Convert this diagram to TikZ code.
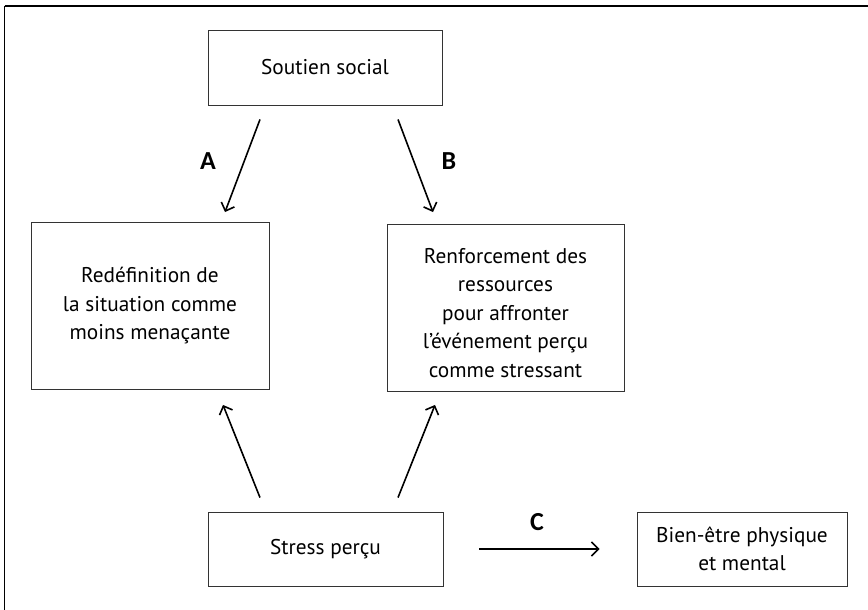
\documentclass[tikz,border=0pt]{standalone}
\usepackage{fontspec}
\setmainfont{PT Sans}
\newfontfamily\lblfont{Carlito}
\usetikzlibrary{arrows.meta,calc}
\tikzset{
  box/.style={draw=black!80, line width=0.9pt, rectangle, inner sep=0pt, align=center, font=\fontsize{21.3}{28.5}\selectfont},
  arr/.style={line width=1.6pt, -{Straight Barb[length=7pt,width=14pt,line width=1.6pt]}},
  lbl/.style={font=\lblfont\bfseries\fontsize{26}{30}\selectfont}
}
\begin{document}
\begin{tikzpicture}[x=1pt,y=-1pt]
\useasboundingbox (0,0) rectangle (868,610);
\coordinate (fbl) at (4.5,612);
\coordinate (ftl) at (4.5,6);
\coordinate (ftr) at (870,6);
\draw[line width=1.2pt] (fbl) -- (ftl);
\draw[line width=2pt] (ftl) -- (ftr);
\node[box, minimum width=234pt, minimum height=75pt] (ss) at (325,67.5) {Soutien social};
\node[box, minimum width=238pt, minimum height=167pt] (rd) at (150,306) {Redéfinition de\\la situation comme\\moins menaçante};
\node[box, minimum width=237pt, minimum height=167pt] (rf) at (505.5,308) {};
\node[box, draw=none] (rft) at (505.5,313) {Renforcement des\\ressources\\pour affronter\\l’événement perçu\\comme stressant};
\node[box, minimum width=235pt, minimum height=74pt] (sp) at (325.5,549) {Stress perçu};
\node[box, minimum width=210pt, minimum height=74pt] (be) at (742,549) {Bien-être physique\\et mental};
\draw[arr] ($(ss.south)+(-65,14)$) -- ($(rd.north)+(75,-10)$);
\draw[arr] ($(ss.south)+(73,14)$) -- ($(rf.north)+(-72.5,-12)$);
\draw[arr] ($(sp.north)+(-65.5,-14)$) -- ($(rd.south)+(73,15)$);
\draw[arr] ($(sp.north)+(72.5,-14)$) -- ($(rf.south)+(-70.5,13)$);
\draw[arr] ($(sp.east)+(36,0)$) -- ($(be.west)+(-37,0)$);
\node[lbl] (la) at (208,161) {A};
\node[lbl] (lb) at (449,161) {B};
\node[lbl] (lc) at (537,522) {C};
\end{tikzpicture}
\end{document}
